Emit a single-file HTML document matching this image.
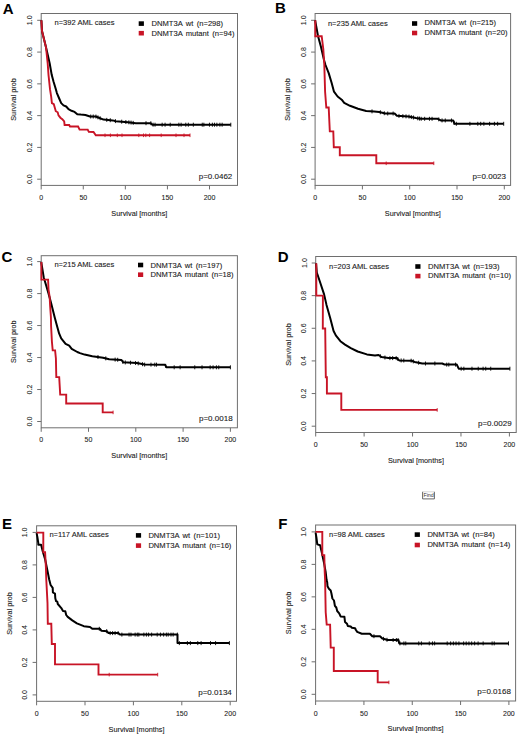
<!DOCTYPE html><html><head><meta charset="utf-8"><style>html,body{margin:0;padding:0;background:#fff;}svg{display:block;}</style></head><body>
<svg width="520" height="743" viewBox="0 0 520 743" font-family='"Liberation Sans", sans-serif'>
<rect width="520" height="743" fill="#fff"/>
<g><rect x="41.2" y="13.5" width="196.3" height="171.9" fill="none" stroke="#6e6e6e" stroke-width="1"/><line x1="37.2" y1="179.2" x2="41.2" y2="179.2" stroke="#6e6e6e" stroke-width="1"/><text x="29.5" y="179.2" font-size="7.0" fill="#202020" stroke="#202020" stroke-width="0.08" text-anchor="middle" transform="rotate(-90 29.5 179.2)" dy="2.5">0.0</text><line x1="37.2" y1="147.42" x2="41.2" y2="147.42" stroke="#6e6e6e" stroke-width="1"/><text x="29.5" y="147.42" font-size="7.0" fill="#202020" stroke="#202020" stroke-width="0.08" text-anchor="middle" transform="rotate(-90 29.5 147.42)" dy="2.5">0.2</text><line x1="37.2" y1="115.64" x2="41.2" y2="115.64" stroke="#6e6e6e" stroke-width="1"/><text x="29.5" y="115.64" font-size="7.0" fill="#202020" stroke="#202020" stroke-width="0.08" text-anchor="middle" transform="rotate(-90 29.5 115.64)" dy="2.5">0.4</text><line x1="37.2" y1="83.86" x2="41.2" y2="83.86" stroke="#6e6e6e" stroke-width="1"/><text x="29.5" y="83.86" font-size="7.0" fill="#202020" stroke="#202020" stroke-width="0.08" text-anchor="middle" transform="rotate(-90 29.5 83.86)" dy="2.5">0.6</text><line x1="37.2" y1="52.08" x2="41.2" y2="52.08" stroke="#6e6e6e" stroke-width="1"/><text x="29.5" y="52.08" font-size="7.0" fill="#202020" stroke="#202020" stroke-width="0.08" text-anchor="middle" transform="rotate(-90 29.5 52.08)" dy="2.5">0.8</text><line x1="37.2" y1="20.3" x2="41.2" y2="20.3" stroke="#6e6e6e" stroke-width="1"/><text x="29.5" y="20.3" font-size="7.0" fill="#202020" stroke="#202020" stroke-width="0.08" text-anchor="middle" transform="rotate(-90 29.5 20.3)" dy="2.5">1.0</text><line x1="41.2" y1="185.4" x2="41.2" y2="189.4" stroke="#6e6e6e" stroke-width="1"/><text x="41.2" y="200" font-size="7.0" fill="#202020" stroke="#202020" stroke-width="0.08" text-anchor="middle">0</text><line x1="83.28" y1="185.4" x2="83.28" y2="189.4" stroke="#6e6e6e" stroke-width="1"/><text x="83.28" y="200" font-size="7.0" fill="#202020" stroke="#202020" stroke-width="0.08" text-anchor="middle">50</text><line x1="125.35" y1="185.4" x2="125.35" y2="189.4" stroke="#6e6e6e" stroke-width="1"/><text x="125.35" y="200" font-size="7.0" fill="#202020" stroke="#202020" stroke-width="0.08" text-anchor="middle">100</text><line x1="167.43" y1="185.4" x2="167.43" y2="189.4" stroke="#6e6e6e" stroke-width="1"/><text x="167.43" y="200" font-size="7.0" fill="#202020" stroke="#202020" stroke-width="0.08" text-anchor="middle">150</text><line x1="209.5" y1="185.4" x2="209.5" y2="189.4" stroke="#6e6e6e" stroke-width="1"/><text x="209.5" y="200" font-size="7.0" fill="#202020" stroke="#202020" stroke-width="0.08" text-anchor="middle">200</text><text x="139.35" y="215.8" font-size="7.3" fill="#202020" stroke="#202020" stroke-width="0.1" text-anchor="middle">Survival [months]</text><text x="16.2" y="99.45" font-size="7.3" fill="#202020" stroke="#202020" stroke-width="0.1" text-anchor="middle" transform="rotate(-90 16.2 99.45)">Survival prob</text><text x="54.5" y="25.4" font-size="7.55" fill="#202020" stroke="#202020" stroke-width="0.1">n=392 AML cases</text><rect x="138.7" y="21.3" width="5.2" height="4.6000000000000005" fill="#000"/><rect x="138.7" y="30.9" width="5.2" height="4.6000000000000005" fill="#c81426"/><text x="151.5" y="25.8" font-size="7.6" word-spacing="1.3" fill="#202020" stroke="#202020" stroke-width="0.1">DNMT3A wt (n=298)</text><text x="151.5" y="35.5" font-size="7.6" word-spacing="1.3" fill="#202020" stroke="#202020" stroke-width="0.1">DNMT3A mutant (n=94)</text><text x="232.3" y="178.6" font-size="8.0" fill="#202020" stroke="#202020" stroke-width="0.1" text-anchor="end">p=0.0462</text><text x="2.83" y="13.85" font-size="15" font-weight="bold" fill="#000">A</text><polyline points="41.4,20.3 42,31 46,47.3 49.7,63.5 51.7,74.8 53.5,81.5 55.4,87.7 56.9,93.1 59.2,98.5 61.2,103.1 63.5,105.4 66.2,106.5 68.5,109.2 71.5,110.8 74.6,111.9 77.3,114.2 80.8,114.6 85.4,115 90,116.5 95.8,116.5 103.5,119.6 112.7,120.4 115.8,121.2 128,122.2 135.8,123.2 150.8,123.2 152.4,124.7 230.8,124.7" fill="none" stroke="#000" stroke-width="2" stroke-linejoin="round"/><polyline points="41.4,20.3 42,31 46,47.3 47.7,63.5 48.5,74.8 48.8,77.7 50,89.2 51.2,96.9 51.9,103.1 53.8,104.2 55.8,111.2 57.7,112.3 58.5,115.4 60.4,117.7 62.3,119.2 64.2,121.5 64.6,125 69.2,125 70,126.5 78.1,126.5 79.6,129.6 87.7,129.6 88.8,131.9 93.5,132 95.8,135.3 190,135.3" fill="none" stroke="#c81426" stroke-width="1.9" stroke-linejoin="miter"/><line x1="105" y1="133.5" x2="105" y2="137.1" stroke="#c81426" stroke-width="0.9"/><line x1="110.4" y1="133.5" x2="110.4" y2="137.1" stroke="#c81426" stroke-width="0.9"/><line x1="117.3" y1="133.5" x2="117.3" y2="137.1" stroke="#c81426" stroke-width="0.9"/><line x1="122" y1="133.5" x2="122" y2="137.1" stroke="#c81426" stroke-width="0.9"/><line x1="138.8" y1="133.5" x2="138.8" y2="137.1" stroke="#c81426" stroke-width="0.9"/><line x1="143.5" y1="133.5" x2="143.5" y2="137.1" stroke="#c81426" stroke-width="0.9"/><line x1="145.8" y1="133.5" x2="145.8" y2="137.1" stroke="#c81426" stroke-width="0.9"/><line x1="149.6" y1="133.5" x2="149.6" y2="137.1" stroke="#c81426" stroke-width="0.9"/><line x1="161.2" y1="133.5" x2="161.2" y2="137.1" stroke="#c81426" stroke-width="0.9"/><line x1="176" y1="133.5" x2="176" y2="137.1" stroke="#c81426" stroke-width="0.9"/><line x1="184" y1="133.5" x2="184" y2="137.1" stroke="#c81426" stroke-width="0.9"/><line x1="190" y1="133.5" x2="190" y2="137.1" stroke="#c81426" stroke-width="0.9"/><line x1="230.8" y1="122.7" x2="230.8" y2="126.7" stroke="#000" stroke-width="0.9"/><line x1="90.73" y1="114.5" x2="90.73" y2="118.5" stroke="#000" stroke-width="0.9"/><line x1="93.22" y1="114.5" x2="93.22" y2="118.5" stroke="#000" stroke-width="0.9"/><line x1="95.93" y1="114.55" x2="95.93" y2="118.55" stroke="#000" stroke-width="0.9"/><line x1="97.96" y1="115.37" x2="97.96" y2="119.37" stroke="#000" stroke-width="0.9"/><line x1="100.13" y1="116.24" x2="100.13" y2="120.24" stroke="#000" stroke-width="0.9"/><line x1="106.77" y1="117.88" x2="106.77" y2="121.88" stroke="#000" stroke-width="0.9"/><line x1="110.26" y1="118.19" x2="110.26" y2="122.19" stroke="#000" stroke-width="0.9"/><line x1="115.42" y1="119.1" x2="115.42" y2="123.1" stroke="#000" stroke-width="0.9"/><line x1="121.69" y1="119.68" x2="121.69" y2="123.68" stroke="#000" stroke-width="0.9"/><line x1="125.87" y1="120.03" x2="125.87" y2="124.03" stroke="#000" stroke-width="0.9"/><line x1="128.86" y1="120.31" x2="128.86" y2="124.31" stroke="#000" stroke-width="0.9"/><line x1="131.07" y1="120.59" x2="131.07" y2="124.59" stroke="#000" stroke-width="0.9"/><line x1="133.21" y1="120.87" x2="133.21" y2="124.87" stroke="#000" stroke-width="0.9"/><line x1="146" y1="121.2" x2="146" y2="125.2" stroke="#000" stroke-width="0.9"/><line x1="150.83" y1="121.23" x2="150.83" y2="125.23" stroke="#000" stroke-width="0.9"/><line x1="153.08" y1="122.7" x2="153.08" y2="126.7" stroke="#000" stroke-width="0.9"/><line x1="155.04" y1="122.7" x2="155.04" y2="126.7" stroke="#000" stroke-width="0.9"/><line x1="162.15" y1="122.7" x2="162.15" y2="126.7" stroke="#000" stroke-width="0.9"/><line x1="165.07" y1="122.7" x2="165.07" y2="126.7" stroke="#000" stroke-width="0.9"/><line x1="170.21" y1="122.7" x2="170.21" y2="126.7" stroke="#000" stroke-width="0.9"/><line x1="178.86" y1="122.7" x2="178.86" y2="126.7" stroke="#000" stroke-width="0.9"/><line x1="181.11" y1="122.7" x2="181.11" y2="126.7" stroke="#000" stroke-width="0.9"/><line x1="185.79" y1="122.7" x2="185.79" y2="126.7" stroke="#000" stroke-width="0.9"/><line x1="188.32" y1="122.7" x2="188.32" y2="126.7" stroke="#000" stroke-width="0.9"/><line x1="193.33" y1="122.7" x2="193.33" y2="126.7" stroke="#000" stroke-width="0.9"/><line x1="202.25" y1="122.7" x2="202.25" y2="126.7" stroke="#000" stroke-width="0.9"/><line x1="203.87" y1="122.7" x2="203.87" y2="126.7" stroke="#000" stroke-width="0.9"/><line x1="209.46" y1="122.7" x2="209.46" y2="126.7" stroke="#000" stroke-width="0.9"/><line x1="212.4" y1="122.7" x2="212.4" y2="126.7" stroke="#000" stroke-width="0.9"/><line x1="214.51" y1="122.7" x2="214.51" y2="126.7" stroke="#000" stroke-width="0.9"/><line x1="216.87" y1="122.7" x2="216.87" y2="126.7" stroke="#000" stroke-width="0.9"/><line x1="219.9" y1="122.7" x2="219.9" y2="126.7" stroke="#000" stroke-width="0.9"/><line x1="222.13" y1="122.7" x2="222.13" y2="126.7" stroke="#000" stroke-width="0.9"/></g>
<g><rect x="315.1" y="13.5" width="195.5" height="171.9" fill="none" stroke="#6e6e6e" stroke-width="1"/><line x1="311.1" y1="179.2" x2="315.1" y2="179.2" stroke="#6e6e6e" stroke-width="1"/><text x="303.4" y="179.2" font-size="7.0" fill="#202020" stroke="#202020" stroke-width="0.08" text-anchor="middle" transform="rotate(-90 303.4 179.2)" dy="2.5">0.0</text><line x1="311.1" y1="147.42" x2="315.1" y2="147.42" stroke="#6e6e6e" stroke-width="1"/><text x="303.4" y="147.42" font-size="7.0" fill="#202020" stroke="#202020" stroke-width="0.08" text-anchor="middle" transform="rotate(-90 303.4 147.42)" dy="2.5">0.2</text><line x1="311.1" y1="115.64" x2="315.1" y2="115.64" stroke="#6e6e6e" stroke-width="1"/><text x="303.4" y="115.64" font-size="7.0" fill="#202020" stroke="#202020" stroke-width="0.08" text-anchor="middle" transform="rotate(-90 303.4 115.64)" dy="2.5">0.4</text><line x1="311.1" y1="83.86" x2="315.1" y2="83.86" stroke="#6e6e6e" stroke-width="1"/><text x="303.4" y="83.86" font-size="7.0" fill="#202020" stroke="#202020" stroke-width="0.08" text-anchor="middle" transform="rotate(-90 303.4 83.86)" dy="2.5">0.6</text><line x1="311.1" y1="52.08" x2="315.1" y2="52.08" stroke="#6e6e6e" stroke-width="1"/><text x="303.4" y="52.08" font-size="7.0" fill="#202020" stroke="#202020" stroke-width="0.08" text-anchor="middle" transform="rotate(-90 303.4 52.08)" dy="2.5">0.8</text><line x1="311.1" y1="20.3" x2="315.1" y2="20.3" stroke="#6e6e6e" stroke-width="1"/><text x="303.4" y="20.3" font-size="7.0" fill="#202020" stroke="#202020" stroke-width="0.08" text-anchor="middle" transform="rotate(-90 303.4 20.3)" dy="2.5">1.0</text><line x1="315.1" y1="185.4" x2="315.1" y2="189.4" stroke="#6e6e6e" stroke-width="1"/><text x="315.1" y="200" font-size="7.0" fill="#202020" stroke="#202020" stroke-width="0.08" text-anchor="middle">0</text><line x1="362.4" y1="185.4" x2="362.4" y2="189.4" stroke="#6e6e6e" stroke-width="1"/><text x="362.4" y="200" font-size="7.0" fill="#202020" stroke="#202020" stroke-width="0.08" text-anchor="middle">50</text><line x1="409.7" y1="185.4" x2="409.7" y2="189.4" stroke="#6e6e6e" stroke-width="1"/><text x="409.7" y="200" font-size="7.0" fill="#202020" stroke="#202020" stroke-width="0.08" text-anchor="middle">100</text><line x1="457" y1="185.4" x2="457" y2="189.4" stroke="#6e6e6e" stroke-width="1"/><text x="457" y="200" font-size="7.0" fill="#202020" stroke="#202020" stroke-width="0.08" text-anchor="middle">150</text><line x1="504.3" y1="185.4" x2="504.3" y2="189.4" stroke="#6e6e6e" stroke-width="1"/><text x="504.3" y="200" font-size="7.0" fill="#202020" stroke="#202020" stroke-width="0.08" text-anchor="middle">200</text><text x="412.85" y="215.8" font-size="7.3" fill="#202020" stroke="#202020" stroke-width="0.1" text-anchor="middle">Survival [months]</text><text x="290.1" y="99.45" font-size="7.3" fill="#202020" stroke="#202020" stroke-width="0.1" text-anchor="middle" transform="rotate(-90 290.1 99.45)">Survival prob</text><text x="327.9" y="25.5" font-size="7.55" fill="#202020" stroke="#202020" stroke-width="0.1">n=235 AML cases</text><rect x="412" y="21.2" width="5.2" height="4.6000000000000005" fill="#000"/><rect x="412" y="30.7" width="5.2" height="4.6000000000000005" fill="#c81426"/><text x="424.5" y="25.4" font-size="7.6" word-spacing="1.3" fill="#202020" stroke="#202020" stroke-width="0.1">DNMT3A wt (n=215)</text><text x="424.5" y="35" font-size="7.6" word-spacing="1.3" fill="#202020" stroke="#202020" stroke-width="0.1">DNMT3A mutant (n=20)</text><text x="506" y="178.5" font-size="8.0" fill="#202020" stroke="#202020" stroke-width="0.1" text-anchor="end">p=0.0023</text><text x="275.1" y="12.8" font-size="15" font-weight="bold" fill="#000">B</text><polyline points="315.1,20.3 318,36 321,47 324,60 325.5,65 328.7,73.1 331.6,82.8 334,91.7 337.6,96.5 341.7,99.7 344.2,102.9 350,105.8 358,108.7 366.2,111 374.2,111.5 379.2,112 385.4,113.5 394.6,113.5 396.9,115.8 408.5,116.5 416,118 420.8,118.8 437.7,118.8 440.8,120.4 453.2,120.5 454.5,123.8 503.7,123.8" fill="none" stroke="#000" stroke-width="2" stroke-linejoin="round"/><polyline points="315.3,20.3 315.3,36.2 321.7,36.2 323.3,49 324.3,65 325.1,91.7 326.3,107.5 328.7,107.5 329.8,131.4 333.3,131.4 333.8,147.3 339.8,147.3 339.8,155.3 376.3,155.3 376.3,163.3 433.8,163.3" fill="none" stroke="#c81426" stroke-width="1.9" stroke-linejoin="miter"/><line x1="386.2" y1="161.5" x2="386.2" y2="165.1" stroke="#c81426" stroke-width="0.9"/><line x1="433.8" y1="161.5" x2="433.8" y2="165.1" stroke="#c81426" stroke-width="0.9"/><line x1="503.7" y1="121.8" x2="503.7" y2="125.8" stroke="#000" stroke-width="0.9"/><line x1="372" y1="109.36" x2="372" y2="113.36" stroke="#000" stroke-width="0.9"/><line x1="380.33" y1="110.27" x2="380.33" y2="114.27" stroke="#000" stroke-width="0.9"/><line x1="384.26" y1="111.22" x2="384.26" y2="115.22" stroke="#000" stroke-width="0.9"/><line x1="387.72" y1="111.5" x2="387.72" y2="115.5" stroke="#000" stroke-width="0.9"/><line x1="393.11" y1="111.5" x2="393.11" y2="115.5" stroke="#000" stroke-width="0.9"/><line x1="398.97" y1="113.92" x2="398.97" y2="117.92" stroke="#000" stroke-width="0.9"/><line x1="402.86" y1="114.16" x2="402.86" y2="118.16" stroke="#000" stroke-width="0.9"/><line x1="406.03" y1="114.35" x2="406.03" y2="118.35" stroke="#000" stroke-width="0.9"/><line x1="409.01" y1="114.6" x2="409.01" y2="118.6" stroke="#000" stroke-width="0.9"/><line x1="411.34" y1="115.07" x2="411.34" y2="119.07" stroke="#000" stroke-width="0.9"/><line x1="413.45" y1="115.49" x2="413.45" y2="119.49" stroke="#000" stroke-width="0.9"/><line x1="417.78" y1="116.3" x2="417.78" y2="120.3" stroke="#000" stroke-width="0.9"/><line x1="419.51" y1="116.59" x2="419.51" y2="120.59" stroke="#000" stroke-width="0.9"/><line x1="421.19" y1="116.8" x2="421.19" y2="120.8" stroke="#000" stroke-width="0.9"/><line x1="424.65" y1="116.8" x2="424.65" y2="120.8" stroke="#000" stroke-width="0.9"/><line x1="429.46" y1="116.8" x2="429.46" y2="120.8" stroke="#000" stroke-width="0.9"/><line x1="432.05" y1="116.8" x2="432.05" y2="120.8" stroke="#000" stroke-width="0.9"/><line x1="438.77" y1="117.35" x2="438.77" y2="121.35" stroke="#000" stroke-width="0.9"/><line x1="442.06" y1="118.41" x2="442.06" y2="122.41" stroke="#000" stroke-width="0.9"/><line x1="445.25" y1="118.44" x2="445.25" y2="122.44" stroke="#000" stroke-width="0.9"/><line x1="451.48" y1="118.49" x2="451.48" y2="122.49" stroke="#000" stroke-width="0.9"/><line x1="454.12" y1="120.84" x2="454.12" y2="124.84" stroke="#000" stroke-width="0.9"/><line x1="456.33" y1="121.8" x2="456.33" y2="125.8" stroke="#000" stroke-width="0.9"/><line x1="469.9" y1="121.8" x2="469.9" y2="125.8" stroke="#000" stroke-width="0.9"/><line x1="477.81" y1="121.8" x2="477.81" y2="125.8" stroke="#000" stroke-width="0.9"/><line x1="480.69" y1="121.8" x2="480.69" y2="125.8" stroke="#000" stroke-width="0.9"/><line x1="483.87" y1="121.8" x2="483.87" y2="125.8" stroke="#000" stroke-width="0.9"/><line x1="489.6" y1="121.8" x2="489.6" y2="125.8" stroke="#000" stroke-width="0.9"/><line x1="494.42" y1="121.8" x2="494.42" y2="125.8" stroke="#000" stroke-width="0.9"/><line x1="497.64" y1="121.8" x2="497.64" y2="125.8" stroke="#000" stroke-width="0.9"/></g>
<g><rect x="41.2" y="255.7" width="196.2" height="172.1" fill="none" stroke="#6e6e6e" stroke-width="1"/><line x1="37.2" y1="421.5" x2="41.2" y2="421.5" stroke="#6e6e6e" stroke-width="1"/><text x="29.5" y="421.5" font-size="7.0" fill="#202020" stroke="#202020" stroke-width="0.08" text-anchor="middle" transform="rotate(-90 29.5 421.5)" dy="2.5">0.0</text><line x1="37.2" y1="389.52" x2="41.2" y2="389.52" stroke="#6e6e6e" stroke-width="1"/><text x="29.5" y="389.52" font-size="7.0" fill="#202020" stroke="#202020" stroke-width="0.08" text-anchor="middle" transform="rotate(-90 29.5 389.52)" dy="2.5">0.2</text><line x1="37.2" y1="357.54" x2="41.2" y2="357.54" stroke="#6e6e6e" stroke-width="1"/><text x="29.5" y="357.54" font-size="7.0" fill="#202020" stroke="#202020" stroke-width="0.08" text-anchor="middle" transform="rotate(-90 29.5 357.54)" dy="2.5">0.4</text><line x1="37.2" y1="325.56" x2="41.2" y2="325.56" stroke="#6e6e6e" stroke-width="1"/><text x="29.5" y="325.56" font-size="7.0" fill="#202020" stroke="#202020" stroke-width="0.08" text-anchor="middle" transform="rotate(-90 29.5 325.56)" dy="2.5">0.6</text><line x1="37.2" y1="293.58" x2="41.2" y2="293.58" stroke="#6e6e6e" stroke-width="1"/><text x="29.5" y="293.58" font-size="7.0" fill="#202020" stroke="#202020" stroke-width="0.08" text-anchor="middle" transform="rotate(-90 29.5 293.58)" dy="2.5">0.8</text><line x1="37.2" y1="261.6" x2="41.2" y2="261.6" stroke="#6e6e6e" stroke-width="1"/><text x="29.5" y="261.6" font-size="7.0" fill="#202020" stroke="#202020" stroke-width="0.08" text-anchor="middle" transform="rotate(-90 29.5 261.6)" dy="2.5">1.0</text><line x1="41.2" y1="427.8" x2="41.2" y2="431.8" stroke="#6e6e6e" stroke-width="1"/><text x="41.2" y="442.4" font-size="7.0" fill="#202020" stroke="#202020" stroke-width="0.08" text-anchor="middle">0</text><line x1="88.5" y1="427.8" x2="88.5" y2="431.8" stroke="#6e6e6e" stroke-width="1"/><text x="88.5" y="442.4" font-size="7.0" fill="#202020" stroke="#202020" stroke-width="0.08" text-anchor="middle">50</text><line x1="135.8" y1="427.8" x2="135.8" y2="431.8" stroke="#6e6e6e" stroke-width="1"/><text x="135.8" y="442.4" font-size="7.0" fill="#202020" stroke="#202020" stroke-width="0.08" text-anchor="middle">100</text><line x1="183.1" y1="427.8" x2="183.1" y2="431.8" stroke="#6e6e6e" stroke-width="1"/><text x="183.1" y="442.4" font-size="7.0" fill="#202020" stroke="#202020" stroke-width="0.08" text-anchor="middle">150</text><line x1="230.4" y1="427.8" x2="230.4" y2="431.8" stroke="#6e6e6e" stroke-width="1"/><text x="230.4" y="442.4" font-size="7.0" fill="#202020" stroke="#202020" stroke-width="0.08" text-anchor="middle">200</text><text x="139.3" y="458.2" font-size="7.3" fill="#202020" stroke="#202020" stroke-width="0.1" text-anchor="middle">Survival [months]</text><text x="16.2" y="341.75" font-size="7.3" fill="#202020" stroke="#202020" stroke-width="0.1" text-anchor="middle" transform="rotate(-90 16.2 341.75)">Survival prob</text><text x="54.4" y="267.4" font-size="7.55" fill="#202020" stroke="#202020" stroke-width="0.1">n=215 AML cases</text><rect x="138" y="262.7" width="5.2" height="4.6000000000000005" fill="#000"/><rect x="138" y="272.4" width="5.2" height="4.6000000000000005" fill="#c81426"/><text x="150.6" y="267.5" font-size="7.6" word-spacing="1.3" fill="#202020" stroke="#202020" stroke-width="0.1">DNMT3A wt (n=197)</text><text x="150.6" y="277.2" font-size="7.6" word-spacing="1.3" fill="#202020" stroke="#202020" stroke-width="0.1">DNMT3A mutant (n=18)</text><text x="232.6" y="421.2" font-size="8.0" fill="#202020" stroke="#202020" stroke-width="0.1" text-anchor="end">p=0.0018</text><text x="1.59" y="262.4" font-size="15" font-weight="bold" fill="#000">C</text><polyline points="41.2,262 43.7,277.2 46.1,285.3 48.5,293.4 50.9,302.3 54.6,317 57.1,326.2 59.1,333.4 61.2,338.3 65.6,343.9 69.2,345.6 71.7,348.8 77.3,352 80,353.1 84.6,354.6 92.3,356.2 103.1,357.7 109.2,359.2 121.5,360 123.1,362.3 136.9,363.1 144.6,364.6 165,364.7 166.5,367.3 230.4,367.3" fill="none" stroke="#000" stroke-width="2" stroke-linejoin="round"/><polyline points="41.4,262 41.4,279.6 48.1,279.6 48.5,289.3 49.7,297.4 50.1,305.5 50.9,317 51.1,326.2 51.9,341.5 52.7,350.4 55.1,350.4 55.9,358.5 56.3,377.1 59.2,377.1 60.2,394.6 66.2,394.6 66.2,403.5 102.7,403.5 102.7,412.4 113.1,412.4" fill="none" stroke="#c81426" stroke-width="1.9" stroke-linejoin="miter"/><line x1="113.1" y1="410.6" x2="113.1" y2="414.2" stroke="#c81426" stroke-width="0.9"/><line x1="230.4" y1="365.3" x2="230.4" y2="369.3" stroke="#000" stroke-width="0.9"/><line x1="97.97" y1="354.99" x2="97.97" y2="358.99" stroke="#000" stroke-width="0.9"/><line x1="105.79" y1="356.36" x2="105.79" y2="360.36" stroke="#000" stroke-width="0.9"/><line x1="115.13" y1="357.59" x2="115.13" y2="361.59" stroke="#000" stroke-width="0.9"/><line x1="117.7" y1="357.75" x2="117.7" y2="361.75" stroke="#000" stroke-width="0.9"/><line x1="122.88" y1="359.98" x2="122.88" y2="363.98" stroke="#000" stroke-width="0.9"/><line x1="125.27" y1="360.43" x2="125.27" y2="364.43" stroke="#000" stroke-width="0.9"/><line x1="130.48" y1="360.73" x2="130.48" y2="364.73" stroke="#000" stroke-width="0.9"/><line x1="135.57" y1="361.02" x2="135.57" y2="365.02" stroke="#000" stroke-width="0.9"/><line x1="138.22" y1="361.36" x2="138.22" y2="365.36" stroke="#000" stroke-width="0.9"/><line x1="142.52" y1="362.2" x2="142.52" y2="366.2" stroke="#000" stroke-width="0.9"/><line x1="144.65" y1="362.6" x2="144.65" y2="366.6" stroke="#000" stroke-width="0.9"/><line x1="150.99" y1="362.63" x2="150.99" y2="366.63" stroke="#000" stroke-width="0.9"/><line x1="154.79" y1="362.65" x2="154.79" y2="366.65" stroke="#000" stroke-width="0.9"/><line x1="156.53" y1="362.66" x2="156.53" y2="366.66" stroke="#000" stroke-width="0.9"/><line x1="165.68" y1="363.87" x2="165.68" y2="367.87" stroke="#000" stroke-width="0.9"/><line x1="174.18" y1="365.3" x2="174.18" y2="369.3" stroke="#000" stroke-width="0.9"/><line x1="180.12" y1="365.3" x2="180.12" y2="369.3" stroke="#000" stroke-width="0.9"/><line x1="194.77" y1="365.3" x2="194.77" y2="369.3" stroke="#000" stroke-width="0.9"/><line x1="202.03" y1="365.3" x2="202.03" y2="369.3" stroke="#000" stroke-width="0.9"/><line x1="210.15" y1="365.3" x2="210.15" y2="369.3" stroke="#000" stroke-width="0.9"/><line x1="213.08" y1="365.3" x2="213.08" y2="369.3" stroke="#000" stroke-width="0.9"/><line x1="216.4" y1="365.3" x2="216.4" y2="369.3" stroke="#000" stroke-width="0.9"/><line x1="218.76" y1="365.3" x2="218.76" y2="369.3" stroke="#000" stroke-width="0.9"/></g>
<g><rect x="315.7" y="256.5" width="200.5" height="176" fill="none" stroke="#6e6e6e" stroke-width="1"/><line x1="311.7" y1="426.2" x2="315.7" y2="426.2" stroke="#6e6e6e" stroke-width="1"/><text x="304" y="426.2" font-size="7.0" fill="#202020" stroke="#202020" stroke-width="0.08" text-anchor="middle" transform="rotate(-90 304 426.2)" dy="2.5">0.0</text><line x1="311.7" y1="393.56" x2="315.7" y2="393.56" stroke="#6e6e6e" stroke-width="1"/><text x="304" y="393.56" font-size="7.0" fill="#202020" stroke="#202020" stroke-width="0.08" text-anchor="middle" transform="rotate(-90 304 393.56)" dy="2.5">0.2</text><line x1="311.7" y1="360.92" x2="315.7" y2="360.92" stroke="#6e6e6e" stroke-width="1"/><text x="304" y="360.92" font-size="7.0" fill="#202020" stroke="#202020" stroke-width="0.08" text-anchor="middle" transform="rotate(-90 304 360.92)" dy="2.5">0.4</text><line x1="311.7" y1="328.28" x2="315.7" y2="328.28" stroke="#6e6e6e" stroke-width="1"/><text x="304" y="328.28" font-size="7.0" fill="#202020" stroke="#202020" stroke-width="0.08" text-anchor="middle" transform="rotate(-90 304 328.28)" dy="2.5">0.6</text><line x1="311.7" y1="295.64" x2="315.7" y2="295.64" stroke="#6e6e6e" stroke-width="1"/><text x="304" y="295.64" font-size="7.0" fill="#202020" stroke="#202020" stroke-width="0.08" text-anchor="middle" transform="rotate(-90 304 295.64)" dy="2.5">0.8</text><line x1="311.7" y1="263" x2="315.7" y2="263" stroke="#6e6e6e" stroke-width="1"/><text x="304" y="263" font-size="7.0" fill="#202020" stroke="#202020" stroke-width="0.08" text-anchor="middle" transform="rotate(-90 304 263)" dy="2.5">1.0</text><line x1="315.7" y1="432.5" x2="315.7" y2="436.5" stroke="#6e6e6e" stroke-width="1"/><text x="315.7" y="447.1" font-size="7.0" fill="#202020" stroke="#202020" stroke-width="0.08" text-anchor="middle">0</text><line x1="364.12" y1="432.5" x2="364.12" y2="436.5" stroke="#6e6e6e" stroke-width="1"/><text x="364.12" y="447.1" font-size="7.0" fill="#202020" stroke="#202020" stroke-width="0.08" text-anchor="middle">50</text><line x1="412.55" y1="432.5" x2="412.55" y2="436.5" stroke="#6e6e6e" stroke-width="1"/><text x="412.55" y="447.1" font-size="7.0" fill="#202020" stroke="#202020" stroke-width="0.08" text-anchor="middle">100</text><line x1="460.98" y1="432.5" x2="460.98" y2="436.5" stroke="#6e6e6e" stroke-width="1"/><text x="460.98" y="447.1" font-size="7.0" fill="#202020" stroke="#202020" stroke-width="0.08" text-anchor="middle">150</text><line x1="509.4" y1="432.5" x2="509.4" y2="436.5" stroke="#6e6e6e" stroke-width="1"/><text x="509.4" y="447.1" font-size="7.0" fill="#202020" stroke="#202020" stroke-width="0.08" text-anchor="middle">200</text><text x="415.95" y="462.9" font-size="7.3" fill="#202020" stroke="#202020" stroke-width="0.1" text-anchor="middle">Survival [months]</text><text x="290.7" y="344.5" font-size="7.3" fill="#202020" stroke="#202020" stroke-width="0.1" text-anchor="middle" transform="rotate(-90 290.7 344.5)">Survival prob</text><text x="329" y="268.5" font-size="7.55" fill="#202020" stroke="#202020" stroke-width="0.1">n=203 AML cases</text><rect x="415.3" y="264.2" width="5.2" height="4.6000000000000005" fill="#000"/><rect x="415.3" y="273.8" width="5.2" height="4.6000000000000005" fill="#c81426"/><text x="428" y="268.8" font-size="7.6" word-spacing="1.3" fill="#202020" stroke="#202020" stroke-width="0.1">DNMT3A wt (n=193)</text><text x="428" y="278.3" font-size="7.6" word-spacing="1.3" fill="#202020" stroke="#202020" stroke-width="0.1">DNMT3A mutant (n=10)</text><text x="511.6" y="426.2" font-size="8.0" fill="#202020" stroke="#202020" stroke-width="0.1" text-anchor="end">p=0.0029</text><text x="277.69" y="261.7" font-size="15" font-weight="bold" fill="#000">D</text><polyline points="316,263.3 316.8,272.5 320.1,282.2 324.1,294.4 326.5,304.9 330.2,318 333.5,330.8 335.8,335.4 340.4,341.2 345,344.6 350.8,348.1 357.7,351.5 366.9,354.4 375,355.6 378.5,355 381.5,357 388.5,358.1 396.9,358.1 399.2,360.4 411.5,360.7 414.6,361.9 422.3,363.5 442.3,363.5 444.6,364.6 456.8,364.6 458.7,368.7 509.9,368.7" fill="none" stroke="#000" stroke-width="2" stroke-linejoin="round"/><polyline points="316.3,263.3 316.3,295.6 322.9,295.6 322.8,328.5 325.2,328.5 325.8,377.3 326.9,377.3 326.9,393.5 341.3,393.5 341.3,409.9 437.2,409.9" fill="none" stroke="#c81426" stroke-width="1.9" stroke-linejoin="miter"/><line x1="437.2" y1="408.1" x2="437.2" y2="411.7" stroke="#c81426" stroke-width="0.9"/><line x1="509.9" y1="366.7" x2="509.9" y2="370.7" stroke="#000" stroke-width="0.9"/><line x1="380.3" y1="354.2" x2="380.3" y2="358.2" stroke="#000" stroke-width="0.9"/><line x1="384.95" y1="355.54" x2="384.95" y2="359.54" stroke="#000" stroke-width="0.9"/><line x1="389.92" y1="356.1" x2="389.92" y2="360.1" stroke="#000" stroke-width="0.9"/><line x1="392.67" y1="356.1" x2="392.67" y2="360.1" stroke="#000" stroke-width="0.9"/><line x1="396.17" y1="356.1" x2="396.17" y2="360.1" stroke="#000" stroke-width="0.9"/><line x1="397.82" y1="357.02" x2="397.82" y2="361.02" stroke="#000" stroke-width="0.9"/><line x1="401.13" y1="358.45" x2="401.13" y2="362.45" stroke="#000" stroke-width="0.9"/><line x1="403.81" y1="358.51" x2="403.81" y2="362.51" stroke="#000" stroke-width="0.9"/><line x1="411.13" y1="358.69" x2="411.13" y2="362.69" stroke="#000" stroke-width="0.9"/><line x1="413.31" y1="359.4" x2="413.31" y2="363.4" stroke="#000" stroke-width="0.9"/><line x1="418.66" y1="360.74" x2="418.66" y2="364.74" stroke="#000" stroke-width="0.9"/><line x1="425.48" y1="361.5" x2="425.48" y2="365.5" stroke="#000" stroke-width="0.9"/><line x1="434.87" y1="361.5" x2="434.87" y2="365.5" stroke="#000" stroke-width="0.9"/><line x1="446.71" y1="362.6" x2="446.71" y2="366.6" stroke="#000" stroke-width="0.9"/><line x1="448.8" y1="362.6" x2="448.8" y2="366.6" stroke="#000" stroke-width="0.9"/><line x1="455.53" y1="362.6" x2="455.53" y2="366.6" stroke="#000" stroke-width="0.9"/><line x1="461.16" y1="366.7" x2="461.16" y2="370.7" stroke="#000" stroke-width="0.9"/><line x1="463.85" y1="366.7" x2="463.85" y2="370.7" stroke="#000" stroke-width="0.9"/><line x1="471.97" y1="366.7" x2="471.97" y2="370.7" stroke="#000" stroke-width="0.9"/><line x1="478.23" y1="366.7" x2="478.23" y2="370.7" stroke="#000" stroke-width="0.9"/><line x1="483.1" y1="366.7" x2="483.1" y2="370.7" stroke="#000" stroke-width="0.9"/><line x1="485.74" y1="366.7" x2="485.74" y2="370.7" stroke="#000" stroke-width="0.9"/><line x1="490.72" y1="366.7" x2="490.72" y2="370.7" stroke="#000" stroke-width="0.9"/></g>
<g><rect x="36.6" y="525.8" width="199.9" height="175.5" fill="none" stroke="#6e6e6e" stroke-width="1"/><line x1="32.6" y1="694.9" x2="36.6" y2="694.9" stroke="#6e6e6e" stroke-width="1"/><text x="24.9" y="694.9" font-size="7.0" fill="#202020" stroke="#202020" stroke-width="0.08" text-anchor="middle" transform="rotate(-90 24.9 694.9)" dy="2.5">0.0</text><line x1="32.6" y1="662.4" x2="36.6" y2="662.4" stroke="#6e6e6e" stroke-width="1"/><text x="24.9" y="662.4" font-size="7.0" fill="#202020" stroke="#202020" stroke-width="0.08" text-anchor="middle" transform="rotate(-90 24.9 662.4)" dy="2.5">0.2</text><line x1="32.6" y1="629.9" x2="36.6" y2="629.9" stroke="#6e6e6e" stroke-width="1"/><text x="24.9" y="629.9" font-size="7.0" fill="#202020" stroke="#202020" stroke-width="0.08" text-anchor="middle" transform="rotate(-90 24.9 629.9)" dy="2.5">0.4</text><line x1="32.6" y1="597.4" x2="36.6" y2="597.4" stroke="#6e6e6e" stroke-width="1"/><text x="24.9" y="597.4" font-size="7.0" fill="#202020" stroke="#202020" stroke-width="0.08" text-anchor="middle" transform="rotate(-90 24.9 597.4)" dy="2.5">0.6</text><line x1="32.6" y1="564.9" x2="36.6" y2="564.9" stroke="#6e6e6e" stroke-width="1"/><text x="24.9" y="564.9" font-size="7.0" fill="#202020" stroke="#202020" stroke-width="0.08" text-anchor="middle" transform="rotate(-90 24.9 564.9)" dy="2.5">0.8</text><line x1="32.6" y1="532.4" x2="36.6" y2="532.4" stroke="#6e6e6e" stroke-width="1"/><text x="24.9" y="532.4" font-size="7.0" fill="#202020" stroke="#202020" stroke-width="0.08" text-anchor="middle" transform="rotate(-90 24.9 532.4)" dy="2.5">1.0</text><line x1="36.6" y1="701.3" x2="36.6" y2="705.3" stroke="#6e6e6e" stroke-width="1"/><text x="36.6" y="715.9" font-size="7.0" fill="#202020" stroke="#202020" stroke-width="0.08" text-anchor="middle">0</text><line x1="85" y1="701.3" x2="85" y2="705.3" stroke="#6e6e6e" stroke-width="1"/><text x="85" y="715.9" font-size="7.0" fill="#202020" stroke="#202020" stroke-width="0.08" text-anchor="middle">50</text><line x1="133.4" y1="701.3" x2="133.4" y2="705.3" stroke="#6e6e6e" stroke-width="1"/><text x="133.4" y="715.9" font-size="7.0" fill="#202020" stroke="#202020" stroke-width="0.08" text-anchor="middle">100</text><line x1="181.8" y1="701.3" x2="181.8" y2="705.3" stroke="#6e6e6e" stroke-width="1"/><text x="181.8" y="715.9" font-size="7.0" fill="#202020" stroke="#202020" stroke-width="0.08" text-anchor="middle">150</text><line x1="230.2" y1="701.3" x2="230.2" y2="705.3" stroke="#6e6e6e" stroke-width="1"/><text x="230.2" y="715.9" font-size="7.0" fill="#202020" stroke="#202020" stroke-width="0.08" text-anchor="middle">200</text><text x="136.55" y="731.7" font-size="7.3" fill="#202020" stroke="#202020" stroke-width="0.1" text-anchor="middle">Survival [months]</text><text x="11.6" y="613.55" font-size="7.3" fill="#202020" stroke="#202020" stroke-width="0.1" text-anchor="middle" transform="rotate(-90 11.6 613.55)">Survival prob</text><text x="49.4" y="536.9" font-size="7.55" fill="#202020" stroke="#202020" stroke-width="0.1">n=117 AML cases</text><rect x="135.9" y="533.1" width="5.2" height="4.6000000000000005" fill="#000"/><rect x="135.9" y="543.3" width="5.2" height="4.6000000000000005" fill="#c81426"/><text x="148.4" y="537.7" font-size="7.6" word-spacing="1.3" fill="#202020" stroke="#202020" stroke-width="0.1">DNMT3A wt (n=101)</text><text x="148.4" y="547.8" font-size="7.6" word-spacing="1.3" fill="#202020" stroke="#202020" stroke-width="0.1">DNMT3A mutant (n=16)</text><text x="231.8" y="695" font-size="8.0" fill="#202020" stroke="#202020" stroke-width="0.1" text-anchor="end">p=0.0134</text><text x="1.89" y="528.5" font-size="15" font-weight="bold" fill="#000">E</text><polyline points="36.6,533 37.4,537.1 38.3,543.2 38.3,544.8 41.1,544.8 42.7,551.2 45.1,559.3 47.1,569 49.2,579.5 50.6,585 52.7,587.9 52.9,592.5 55,593.7 55.3,598.3 56.1,601.2 57.3,601.7 57.8,604 61.3,608.1 63,611 65.3,611.3 66.2,615 67.7,616.9 72.3,620.4 76.9,623.3 83.8,626.2 90,626.9 92.3,628.8 100,628.8 101.5,630.8 106.9,631.2 108.5,633.1 118.5,633.1 120,634.6 177.5,634.6 177.5,643.1 229.4,643.1" fill="none" stroke="#000" stroke-width="2" stroke-linejoin="round"/><polyline points="36.6,532.6 43.3,532.6 43.3,552.2 45.1,552.2 45.9,567.4 46.3,580 47.5,603.1 47.8,623.7 51.3,623.7 51.8,644 55,644 55,664.4 98.5,664.4 98.5,674.6 157.7,674.6" fill="none" stroke="#c81426" stroke-width="1.9" stroke-linejoin="miter"/><line x1="109.2" y1="672.8" x2="109.2" y2="676.4" stroke="#c81426" stroke-width="0.9"/><line x1="157.7" y1="672.8" x2="157.7" y2="676.4" stroke="#c81426" stroke-width="0.9"/><line x1="229.4" y1="641.1" x2="229.4" y2="645.1" stroke="#000" stroke-width="0.9"/><line x1="99.31" y1="626.8" x2="99.31" y2="630.8" stroke="#000" stroke-width="0.9"/><line x1="106.69" y1="629.18" x2="106.69" y2="633.18" stroke="#000" stroke-width="0.9"/><line x1="110.15" y1="631.1" x2="110.15" y2="635.1" stroke="#000" stroke-width="0.9"/><line x1="112.63" y1="631.1" x2="112.63" y2="635.1" stroke="#000" stroke-width="0.9"/><line x1="115.09" y1="631.1" x2="115.09" y2="635.1" stroke="#000" stroke-width="0.9"/><line x1="118.11" y1="631.1" x2="118.11" y2="635.1" stroke="#000" stroke-width="0.9"/><line x1="121.89" y1="632.6" x2="121.89" y2="636.6" stroke="#000" stroke-width="0.9"/><line x1="129.05" y1="632.6" x2="129.05" y2="636.6" stroke="#000" stroke-width="0.9"/><line x1="130.97" y1="632.6" x2="130.97" y2="636.6" stroke="#000" stroke-width="0.9"/><line x1="135.14" y1="632.6" x2="135.14" y2="636.6" stroke="#000" stroke-width="0.9"/><line x1="137.29" y1="632.6" x2="137.29" y2="636.6" stroke="#000" stroke-width="0.9"/><line x1="138.83" y1="632.6" x2="138.83" y2="636.6" stroke="#000" stroke-width="0.9"/><line x1="143.87" y1="632.6" x2="143.87" y2="636.6" stroke="#000" stroke-width="0.9"/><line x1="146.4" y1="632.6" x2="146.4" y2="636.6" stroke="#000" stroke-width="0.9"/><line x1="148.57" y1="632.6" x2="148.57" y2="636.6" stroke="#000" stroke-width="0.9"/><line x1="151.64" y1="632.6" x2="151.64" y2="636.6" stroke="#000" stroke-width="0.9"/><line x1="157.21" y1="632.6" x2="157.21" y2="636.6" stroke="#000" stroke-width="0.9"/><line x1="160.44" y1="632.6" x2="160.44" y2="636.6" stroke="#000" stroke-width="0.9"/><line x1="163.63" y1="632.6" x2="163.63" y2="636.6" stroke="#000" stroke-width="0.9"/><line x1="166.39" y1="632.6" x2="166.39" y2="636.6" stroke="#000" stroke-width="0.9"/><line x1="168.19" y1="632.6" x2="168.19" y2="636.6" stroke="#000" stroke-width="0.9"/><line x1="170.99" y1="632.6" x2="170.99" y2="636.6" stroke="#000" stroke-width="0.9"/><line x1="173.14" y1="632.6" x2="173.14" y2="636.6" stroke="#000" stroke-width="0.9"/><line x1="177.37" y1="632.6" x2="177.37" y2="636.6" stroke="#000" stroke-width="0.9"/><line x1="179.33" y1="641.1" x2="179.33" y2="645.1" stroke="#000" stroke-width="0.9"/><line x1="187.39" y1="641.1" x2="187.39" y2="645.1" stroke="#000" stroke-width="0.9"/><line x1="190.36" y1="641.1" x2="190.36" y2="645.1" stroke="#000" stroke-width="0.9"/><line x1="197.78" y1="641.1" x2="197.78" y2="645.1" stroke="#000" stroke-width="0.9"/><line x1="201.1" y1="641.1" x2="201.1" y2="645.1" stroke="#000" stroke-width="0.9"/><line x1="210.5" y1="641.1" x2="210.5" y2="645.1" stroke="#000" stroke-width="0.9"/><line x1="215.57" y1="641.1" x2="215.57" y2="645.1" stroke="#000" stroke-width="0.9"/></g>
<g><rect x="315.6" y="525" width="200" height="176" fill="none" stroke="#6e6e6e" stroke-width="1"/><line x1="311.6" y1="694.3" x2="315.6" y2="694.3" stroke="#6e6e6e" stroke-width="1"/><text x="303.9" y="694.3" font-size="7.0" fill="#202020" stroke="#202020" stroke-width="0.08" text-anchor="middle" transform="rotate(-90 303.9 694.3)" dy="2.5">0.0</text><line x1="311.6" y1="661.82" x2="315.6" y2="661.82" stroke="#6e6e6e" stroke-width="1"/><text x="303.9" y="661.82" font-size="7.0" fill="#202020" stroke="#202020" stroke-width="0.08" text-anchor="middle" transform="rotate(-90 303.9 661.82)" dy="2.5">0.2</text><line x1="311.6" y1="629.34" x2="315.6" y2="629.34" stroke="#6e6e6e" stroke-width="1"/><text x="303.9" y="629.34" font-size="7.0" fill="#202020" stroke="#202020" stroke-width="0.08" text-anchor="middle" transform="rotate(-90 303.9 629.34)" dy="2.5">0.4</text><line x1="311.6" y1="596.86" x2="315.6" y2="596.86" stroke="#6e6e6e" stroke-width="1"/><text x="303.9" y="596.86" font-size="7.0" fill="#202020" stroke="#202020" stroke-width="0.08" text-anchor="middle" transform="rotate(-90 303.9 596.86)" dy="2.5">0.6</text><line x1="311.6" y1="564.38" x2="315.6" y2="564.38" stroke="#6e6e6e" stroke-width="1"/><text x="303.9" y="564.38" font-size="7.0" fill="#202020" stroke="#202020" stroke-width="0.08" text-anchor="middle" transform="rotate(-90 303.9 564.38)" dy="2.5">0.8</text><line x1="311.6" y1="531.9" x2="315.6" y2="531.9" stroke="#6e6e6e" stroke-width="1"/><text x="303.9" y="531.9" font-size="7.0" fill="#202020" stroke="#202020" stroke-width="0.08" text-anchor="middle" transform="rotate(-90 303.9 531.9)" dy="2.5">1.0</text><line x1="315.6" y1="701" x2="315.6" y2="705" stroke="#6e6e6e" stroke-width="1"/><text x="315.6" y="715.6" font-size="7.0" fill="#202020" stroke="#202020" stroke-width="0.08" text-anchor="middle">0</text><line x1="363.93" y1="701" x2="363.93" y2="705" stroke="#6e6e6e" stroke-width="1"/><text x="363.93" y="715.6" font-size="7.0" fill="#202020" stroke="#202020" stroke-width="0.08" text-anchor="middle">50</text><line x1="412.25" y1="701" x2="412.25" y2="705" stroke="#6e6e6e" stroke-width="1"/><text x="412.25" y="715.6" font-size="7.0" fill="#202020" stroke="#202020" stroke-width="0.08" text-anchor="middle">100</text><line x1="460.57" y1="701" x2="460.57" y2="705" stroke="#6e6e6e" stroke-width="1"/><text x="460.57" y="715.6" font-size="7.0" fill="#202020" stroke="#202020" stroke-width="0.08" text-anchor="middle">150</text><line x1="508.9" y1="701" x2="508.9" y2="705" stroke="#6e6e6e" stroke-width="1"/><text x="508.9" y="715.6" font-size="7.0" fill="#202020" stroke="#202020" stroke-width="0.08" text-anchor="middle">200</text><text x="415.6" y="731.4" font-size="7.3" fill="#202020" stroke="#202020" stroke-width="0.1" text-anchor="middle">Survival [months]</text><text x="290.6" y="613" font-size="7.3" fill="#202020" stroke="#202020" stroke-width="0.1" text-anchor="middle" transform="rotate(-90 290.6 613)">Survival prob</text><text x="329" y="536.5" font-size="7.55" fill="#202020" stroke="#202020" stroke-width="0.1">n=98 AML cases</text><rect x="414.7" y="532.3" width="5.2" height="4.6000000000000005" fill="#000"/><rect x="414.7" y="542.7" width="5.2" height="4.6000000000000005" fill="#c81426"/><text x="427.4" y="537" font-size="7.6" word-spacing="1.3" fill="#202020" stroke="#202020" stroke-width="0.1">DNMT3A wt (n=84)</text><text x="427.4" y="546.8" font-size="7.6" word-spacing="1.3" fill="#202020" stroke="#202020" stroke-width="0.1">DNMT3A mutant (n=14)</text><text x="510.9" y="693.8" font-size="8.0" fill="#202020" stroke="#202020" stroke-width="0.1" text-anchor="end">p=0.0168</text><text x="278.19" y="529" font-size="15" font-weight="bold" fill="#000">F</text><polyline points="315.6,532.7 316.4,537.5 317.3,544.4 320.1,545.2 321.7,552 324.1,563.4 325.7,572.3 326.6,580 327.2,582.3 327.5,586.3 328.9,588.7 330.7,590.4 331.5,593.8 332.4,598.5 334,600.5 334.9,605.8 336.3,607.5 337.2,611 339.2,613.3 340.6,616.4 344.4,616.7 345,621.9 347,623.7 347.8,626 350.7,626.5 351.9,627.7 355.1,628.3 355.9,630 357.2,631.9 361.8,633.7 369.9,633.7 372.3,636.2 380,636.2 382.3,638.5 387.7,640 398.5,640 399.2,643.4 508.5,643.4" fill="none" stroke="#000" stroke-width="2" stroke-linejoin="round"/><polyline points="315.6,531.9 322.3,531.9 322.3,555.1 324.3,555.1 324.7,571.4 325.1,580 325.7,612.3 326.7,624.6 330.1,624.6 330.7,647.6 333.8,647.6 333.8,671 377.7,671 377.7,682.4 388.9,682.4" fill="none" stroke="#c81426" stroke-width="1.9" stroke-linejoin="miter"/><line x1="388.9" y1="680.6" x2="388.9" y2="684.2" stroke="#c81426" stroke-width="0.9"/><line x1="508.5" y1="641.4" x2="508.5" y2="645.4" stroke="#000" stroke-width="0.9"/><line x1="373.95" y1="634.2" x2="373.95" y2="638.2" stroke="#000" stroke-width="0.9"/><line x1="383.54" y1="636.84" x2="383.54" y2="640.84" stroke="#000" stroke-width="0.9"/><line x1="387.01" y1="637.81" x2="387.01" y2="641.81" stroke="#000" stroke-width="0.9"/><line x1="393.11" y1="638" x2="393.11" y2="642" stroke="#000" stroke-width="0.9"/><line x1="396.37" y1="638" x2="396.37" y2="642" stroke="#000" stroke-width="0.9"/><line x1="398.1" y1="638" x2="398.1" y2="642" stroke="#000" stroke-width="0.9"/><line x1="399.96" y1="641.4" x2="399.96" y2="645.4" stroke="#000" stroke-width="0.9"/><line x1="403.9" y1="641.4" x2="403.9" y2="645.4" stroke="#000" stroke-width="0.9"/><line x1="405.77" y1="641.4" x2="405.77" y2="645.4" stroke="#000" stroke-width="0.9"/><line x1="418.74" y1="641.4" x2="418.74" y2="645.4" stroke="#000" stroke-width="0.9"/><line x1="421.4" y1="641.4" x2="421.4" y2="645.4" stroke="#000" stroke-width="0.9"/><line x1="429.25" y1="641.4" x2="429.25" y2="645.4" stroke="#000" stroke-width="0.9"/><line x1="432.52" y1="641.4" x2="432.52" y2="645.4" stroke="#000" stroke-width="0.9"/><line x1="434.61" y1="641.4" x2="434.61" y2="645.4" stroke="#000" stroke-width="0.9"/><line x1="447.2" y1="641.4" x2="447.2" y2="645.4" stroke="#000" stroke-width="0.9"/><line x1="450.64" y1="641.4" x2="450.64" y2="645.4" stroke="#000" stroke-width="0.9"/><line x1="453.39" y1="641.4" x2="453.39" y2="645.4" stroke="#000" stroke-width="0.9"/><line x1="456.04" y1="641.4" x2="456.04" y2="645.4" stroke="#000" stroke-width="0.9"/><line x1="458.91" y1="641.4" x2="458.91" y2="645.4" stroke="#000" stroke-width="0.9"/><line x1="463.62" y1="641.4" x2="463.62" y2="645.4" stroke="#000" stroke-width="0.9"/><line x1="466.21" y1="641.4" x2="466.21" y2="645.4" stroke="#000" stroke-width="0.9"/><line x1="468.95" y1="641.4" x2="468.95" y2="645.4" stroke="#000" stroke-width="0.9"/><line x1="471.66" y1="641.4" x2="471.66" y2="645.4" stroke="#000" stroke-width="0.9"/><line x1="474.64" y1="641.4" x2="474.64" y2="645.4" stroke="#000" stroke-width="0.9"/><line x1="478.1" y1="641.4" x2="478.1" y2="645.4" stroke="#000" stroke-width="0.9"/><line x1="483.15" y1="641.4" x2="483.15" y2="645.4" stroke="#000" stroke-width="0.9"/><line x1="492.11" y1="641.4" x2="492.11" y2="645.4" stroke="#000" stroke-width="0.9"/><line x1="494.23" y1="641.4" x2="494.23" y2="645.4" stroke="#000" stroke-width="0.9"/></g>
<path d="M422.6,491.8 V498.9 H434.4 V491.8" fill="none" stroke="#555" stroke-width="0.9"/>
<line x1="422.6" y1="491.8" x2="434.4" y2="491.8" stroke="#bbb" stroke-width="0.6"/>
<text x="428.6" y="496.9" font-size="6.1" fill="#333" text-anchor="middle" textLength="10.4" lengthAdjust="spacingAndGlyphs">Find</text>
</svg></body></html>
